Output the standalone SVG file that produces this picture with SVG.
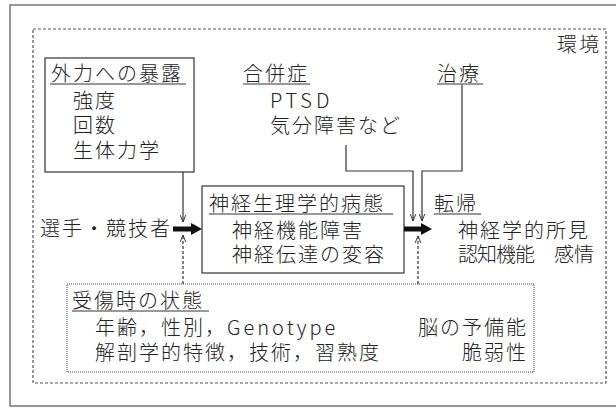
<svg xmlns="http://www.w3.org/2000/svg" width="616" height="408" viewBox="0 0 616 408">
<style>
text{font-family:"Noto Sans CJK JP","Noto Sans",sans-serif;font-size:20px;font-weight:300;fill:#222;letter-spacing:2px}
.lat{letter-spacing:3px}
.box{fill:none;stroke:#333;stroke-width:1.2}
.ul{stroke:#333;stroke-width:1}
.ln{fill:none;stroke:#333;stroke-width:1.2}
.dash{fill:none;stroke:#333;stroke-width:1.2;stroke-dasharray:3 2}
.thick{fill:#111;stroke:none}
</style>
<defs>
<marker id="v" viewBox="0 0 10 10" refX="10" refY="5" markerWidth="7" markerHeight="7" markerUnits="userSpaceOnUse" orient="auto">
<path d="M0,1 L10,5 L0,9" fill="none" stroke="#333" stroke-width="1.4"/>
</marker>
</defs>
<g id="frame">
<rect x="10" y="5" width="612" height="401" fill="#fff" stroke="#777" stroke-width="1.5"/>
</g>
<g id="env">
<rect x="33" y="29" width="573" height="354" fill="none" stroke="#555" stroke-width="1.2" stroke-dasharray="3 2"/>
<text x="557" y="52">環境</text>
</g>
<g id="exposure">
<rect class="box" x="45" y="58" width="149" height="114"/>
<text x="51" y="81">外力への暴露</text>
<line class="ul" x1="50" y1="84" x2="186" y2="84"/>
<text x="73" y="108">強度</text>
<text x="73" y="133">回数</text>
<text x="73" y="158">生体力学</text>
</g>
<g id="comorbidity">
<text x="243" y="81">合併症</text>
<line class="ul" x1="243" y1="84" x2="310" y2="84"/>
<text x="270" y="108" style="letter-spacing:4px">PTSD</text>
<text x="270" y="133">気分障害など</text>
</g>
<g id="treatment">
<text x="437" y="81">治療</text>
<line class="ul" x1="437" y1="84" x2="483" y2="84"/>
</g>
<g id="athlete">
<text x="40" y="236">選手・競技者</text>
</g>
<g id="patho">
<rect class="box" x="202" y="186" width="202" height="87"/>
<text x="209" y="211">神経生理学的病態</text>
<line class="ul" x1="209" y1="214" x2="393" y2="214"/>
<text x="232" y="238">神経機能障害</text>
<text x="232" y="262">神経伝達の変容</text>
</g>
<g id="outcome">
<text x="434" y="211">転帰</text>
<line class="ul" x1="434" y1="214" x2="481" y2="214"/>
<text x="458" y="238">神経学的所見</text>
<text x="458" y="262"><tspan style="letter-spacing:-1px">認知機能</tspan><tspan x="554" style="letter-spacing:0">感情</tspan></text>
</g>
<g id="state">
<rect x="67" y="284" width="467" height="88" fill="none" stroke="#444" stroke-width="1" stroke-dasharray="1 1"/>
<text x="72" y="308">受傷時の状態</text>
<line class="ul" x1="72" y1="311" x2="209" y2="311"/>
<text x="95" y="335">年齢，性別，<tspan class="lat">Genotype</tspan></text>
<text x="95" y="360">解剖学的特徴，技術，習熟度</text>
<text x="528" y="335" text-anchor="end">脳の予備能</text>
<text x="528" y="360" text-anchor="end">脆弱性</text>
</g>
<g id="connectors">
<polygon class="thick" points="173,226.5 191,226.5 191,223 202,229 191,235 191,231.5 173,231.5"/>
<polygon class="thick" points="404,226.5 421,226.5 421,223 432,229 421,235 421,231.5 404,231.5"/>
<line class="ln" x1="183" y1="172" x2="183" y2="222" marker-end="url(#v)"/>
<line class="dash" x1="183" y1="284" x2="183" y2="235" marker-end="url(#v)"/>
<polyline class="ln" points="346,145 346,171 413,171 413,221" marker-end="url(#v)"/>
<polyline class="ln" points="462,85 462,171 422,171 422,221" marker-end="url(#v)"/>
<line class="dash" x1="418" y1="284" x2="418" y2="236" marker-end="url(#v)"/>
</g>
</svg>
